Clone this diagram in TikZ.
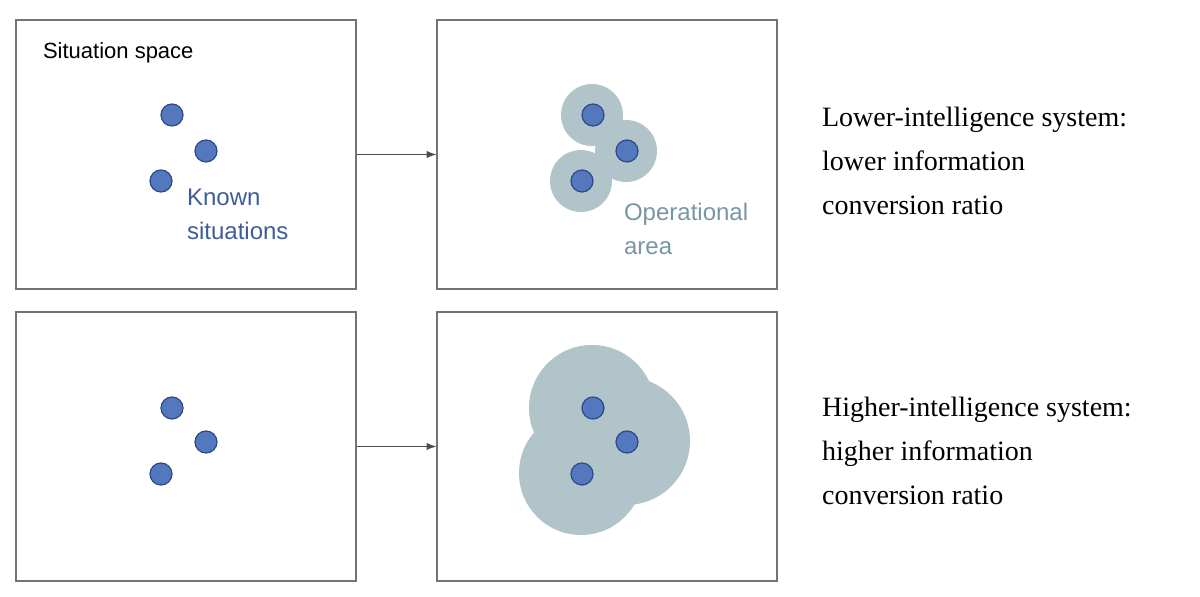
\documentclass[tikz,border=0pt]{standalone}
\usepackage{fontspec}
\setmainfont{Liberation Serif}
\newfontfamily\labelfont{Liberation Sans}
\usetikzlibrary{positioning}
\definecolor{dotfill}{HTML}{5478BE}
\definecolor{dotdraw}{HTML}{2E4A86}
\definecolor{areafill}{HTML}{B1C4C9}
\definecolor{areatext}{HTML}{7796A3}
\definecolor{knowntext}{HTML}{3E5C9A}
\begin{document}
\begin{tikzpicture}[x=0.5pt,y=-0.5pt,
		panel/.style={draw=black!55,line width=0.6pt},
		sit/.style={circle,minimum size=11pt,inner sep=0pt,draw=dotdraw,fill=dotfill,line width=0.6pt},
		area/.style={circle,fill=areafill,inner sep=0pt},
		link/.style={-latex,draw=black!70,line width=0.7pt},
		verdict/.style={anchor=north west,align=left,font=\fontsize{14}{22}\selectfont}]
	\useasboundingbox (0,0) rectangle (1200,597);
	% panels
	\node[panel,minimum width=170pt,minimum height=134.5pt,inner sep=0pt] (tl) at (186,154.5) {};
	\node[panel,minimum width=170pt,minimum height=134.5pt,inner sep=0pt] (tr) at (607,154.5) {};
	\node[panel,minimum width=170pt,minimum height=134.5pt,inner sep=0pt] (bl) at (186,446.5) {};
	\node[panel,minimum width=170pt,minimum height=134.5pt,inner sep=0pt] (br) at (607,446.5) {};
	% operational areas
	\node[area,minimum size=31pt] (ta) at (592,115) {};
	\node[area,minimum size=31pt] (tb) at (626,151) {};
	\node[area,minimum size=31pt] (tc) at (581,181) {};
	\node[area,minimum size=63pt] (ba) at (592,408) {};
	\node[area,minimum size=64pt] (bb) at (626,441) {};
	\node[area,minimum size=62pt] (bc) at (581,473) {};
	% known situations
	\foreach \dx/\nm in {0/l,421/r}{
		\node[sit] (t\nm1) at (172+\dx,115) {};
		\node[sit] (t\nm2) at (206+\dx,151) {};
		\node[sit] (t\nm3) at (161+\dx,181) {};
		\node[sit] (b\nm1) at (172+\dx,408) {};
		\node[sit] (b\nm2) at (206+\dx,442) {};
		\node[sit] (b\nm3) at (161+\dx,474) {};
	}
	% labels
	\node[anchor=north west,font=\labelfont\fontsize{11}{13}\selectfont] (space) at (36,36) {Situation space};
	\node[anchor=north west,align=left,text=knowntext,font=\labelfont\fontsize{12}{17}\selectfont] (known) at (180,182) {Known\\situations};
	\node[anchor=north west,align=left,text=areatext,font=\labelfont\fontsize{12}{17}\selectfont] (oper) at (617,196) {Operational\\area};
	\node[verdict] (low) at (815,100) {Lower-intelligence system:\\lower information\\conversion ratio};
	\node[verdict] (high) at (815,390) {Higher-intelligence system:\\higher information\\conversion ratio};
	% arrows
	\draw[link] (tl.east) -- (tr.west);
	\draw[link] (bl.east) -- (br.west);
\end{tikzpicture}
\end{document}
